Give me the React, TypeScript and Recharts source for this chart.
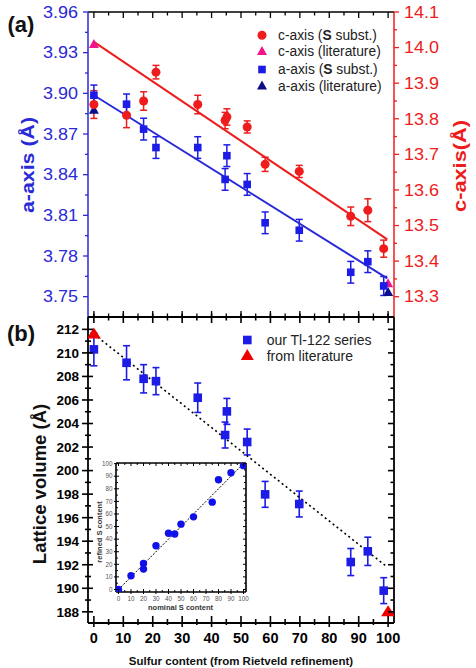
import React from 'react';
import { ComposedChart, Scatter, XAxis, YAxis, ErrorBar } from 'recharts';

// ---------- data ----------
const sulfur = [0, 11.1, 16.9, 21.1, 35.3, 44.6, 45.2, 52.1, 58.2, 69.8, 87.3, 93.1, 98.5];
const aAxis = [3.8986, 3.892, 3.8736, 3.86, 3.86, 3.8365, 3.854, 3.8328, 3.8045, 3.799, 3.768, 3.7758, 3.7579];
const aErr = [0.0075, 0.0075, 0.008, 0.008, 0.008, 0.008, 0.008, 0.008, 0.008, 0.008, 0.008, 0.008, 0.007];
const cAxis = [13.84, 13.81, 13.85, 13.931, 13.84, 13.795, 13.805, 13.777, 13.672, 13.652, 13.526, 13.543, 13.435];
const cErr = [0.039, 0.035, 0.026, 0.019, 0.026, 0.023, 0.023, 0.017, 0.02, 0.017, 0.026, 0.032, 0.024];
const volume = [210.3, 209.16, 207.8, 207.6, 206.19, 203.02, 205.03, 202.43, 197.98, 197.16, 192.23, 193.14, 189.8];
const volErr = [1.4, 1.45, 1.2, 1.15, 1.25, 1.1, 1.1, 1.1, 1.1, 1.1, 1.15, 1.2, 1.1];

const litS = [0, 100];
const aLit = [3.8876, 3.7532];
const cLit = [14.009, 13.337];
const volLit = [211.6, 188.0];

const fitS = [0, 99.7];
const aFit = [3.8986, 3.7635];
const cFit = [14.016, 13.461];
const volFit = [211.6, 191.8];

const nominalS = [0, 10, 20, 20, 30, 40, 45, 50, 60, 75, 80, 90, 100];
const refinedS = [0, 10.9, 20.7, 16.2, 34.8, 44.7, 44.1, 51.9, 57.7, 69.4, 87.2, 92.8, 98.4];
const diagS = [0, 100];

const xTicks = [0, 5, 10, 15, 20, 25, 30, 35, 40, 45, 50, 55, 60, 65, 70, 75, 80, 85, 90, 95, 100];
const aTicks = [3.75, 3.765, 3.78, 3.795, 3.81, 3.825, 3.84, 3.855, 3.87, 3.885, 3.9, 3.915, 3.93, 3.945, 3.96];
const cTicks = [13.3, 13.35, 13.4, 13.45, 13.5, 13.55, 13.6, 13.65, 13.7, 13.75, 13.8, 13.85, 13.9, 13.95, 14.0, 14.05, 14.1];
const volTicks = [188, 189, 190, 191, 192, 193, 194, 195, 196, 197, 198, 199, 200, 201, 202, 203, 204, 205, 206, 207, 208, 209, 210, 211, 212];
const insetTicks = [0, 5, 10, 15, 20, 25, 30, 35, 40, 45, 50, 55, 60, 65, 70, 75, 80, 85, 90, 95, 100];

// ---------- helpers ----------
const zip = (xs: number[], ys: number[], es?: number[]) =>
  xs.map((x, i) => ({ x, y: ys[i], e: es ? es[i] : 0 }));

const FONT = '"Liberation Sans", Arial, Helvetica, sans-serif';
const BLUE = '#1c1ce6';
const BLUE_AX = '#2a2ad6';
const RED = '#ee1c1c';
const MAGENTA = '#f0158c';
const NAVY = '#0d0d8a';

const every = (step: number, base = 0) => (v: number) => {
  const q = (v - base) / step;
  return Math.abs(q - Math.round(q)) < 1e-6;
};

type TickOpts = {
  side: 'left' | 'right' | 'top' | 'bottom';
  isMajor: (v: number) => boolean;
  majIn: number; majOut: number; minIn: number; minOut: number;
  color: string;
  label?: (v: number) => string;
  gap?: number;
  fontSize?: number;
  fontWeight?: any;
  textColor?: string;
  sw?: number;
  textLength?: number;
};

const makeTick = (o: TickOpts) => (props: any) => {
  const { x, y, payload } = props;
  const v = payload.value;
  const major = o.isMajor(v);
  const tin = major ? o.majIn : o.minIn;
  const tout = major ? o.majOut : o.minOut;
  const lbl = major && o.label ? o.label(v) : '';
  const g = o.gap ?? 3;
  const sw = o.sw ?? 1.3;
  let line: any = null;
  let text: any = null;
  const tp: any = {
    fontFamily: FONT,
    fontSize: o.fontSize ?? 12,
    fontWeight: o.fontWeight ?? 'normal',
    fill: o.textColor ?? o.color,
  };
  if (o.textLength) {
    tp.textLength = o.textLength;
    tp.lengthAdjust = 'spacingAndGlyphs';
  }
  if (o.side === 'left') {
    line = <line x1={x - tout} y1={y} x2={x + tin} y2={y} stroke={o.color} strokeWidth={sw} />;
    if (lbl) text = <text x={x - tout - g} y={y} dy="0.36em" textAnchor="end" {...tp}>{lbl}</text>;
  } else if (o.side === 'right') {
    line = <line x1={x - tin} y1={y} x2={x + tout} y2={y} stroke={o.color} strokeWidth={sw} />;
    if (lbl) text = <text x={x + tout + g} y={y} dy="0.36em" textAnchor="start" {...tp}>{lbl}</text>;
  } else if (o.side === 'bottom') {
    line = <line x1={x} y1={y - tin} x2={x} y2={y + tout} stroke={o.color} strokeWidth={sw} />;
    if (lbl) text = <text x={x} y={y + tout + g} dy="0.72em" textAnchor="middle" {...tp}>{lbl}</text>;
  } else {
    line = <line x1={x} y1={y - tout} x2={x} y2={y + tin} stroke={o.color} strokeWidth={sw} />;
  }
  return (
    <g>
      {line}
      {text}
    </g>
  );
};

const squareShape = (half: number, fill: string) => (p: any) => (
  <rect x={p.cx - half} y={p.cy - half} width={half * 2} height={half * 2} fill={fill} />
);
const circleShape = (r: number, fill: string) => (p: any) => <circle cx={p.cx} cy={p.cy} r={r} fill={fill} />;
const triShape = (w: number, h: number, fill: string) => (p: any) => (
  <polygon
    points={`${p.cx},${p.cy - h * 0.6} ${p.cx - w / 2},${p.cy + h * 0.4} ${p.cx + w / 2},${p.cy + h * 0.4}`}
    fill={fill}
  />
);
const noShape = () => <g />;

// ---------- charts ----------
const TopPanel = () => (
  <ComposedChart width={476} height={330} margin={{ top: 10, right: 22, bottom: 10, left: 28 }}>
    <XAxis
      xAxisId="b" dataKey="x" type="number" domain={[-2, 102]} allowDataOverflow ticks={xTicks} interval={0}
      orientation="bottom" height={3} tickSize={0} tickMargin={0} tickLine={false}
      axisLine={{ stroke: '#000', strokeWidth: 1.5 }}
      tick={makeTick({ side: 'bottom', isMajor: every(10), majIn: 6, majOut: 0, minIn: 3.5, minOut: 0, color: '#000' })}
    />
    <XAxis
      xAxisId="t" dataKey="x" type="number" domain={[-2, 102]} allowDataOverflow ticks={xTicks} interval={0}
      orientation="top" height={2} tickSize={0} tickMargin={0} tickLine={false}
      axisLine={{ stroke: '#000', strokeWidth: 1.5 }}
      tick={makeTick({ side: 'top', isMajor: every(10), majIn: 6, majOut: 0, minIn: 3.5, minOut: 0, color: '#000' })}
    />
    <YAxis
      yAxisId="a" dataKey="y" type="number" domain={[3.735, 3.96]} allowDataOverflow ticks={aTicks} interval={0}
      orientation="left" width={60} tickSize={0} tickMargin={0} tickLine={false}
      axisLine={{ stroke: BLUE_AX, strokeWidth: 1.5 }}
      tick={makeTick({
        side: 'left', isMajor: every(0.03, 3.75), majIn: 0, majOut: 5, minIn: 0, minOut: 3, color: BLUE_AX,
        label: (v) => v.toFixed(2), gap: 5, fontSize: 16, textLength: 35,
      })}
    />
    <YAxis
      yAxisId="c" dataKey="y" type="number" domain={[13.243, 14.1]} allowDataOverflow ticks={cTicks} interval={0}
      orientation="right" width={60} tickSize={0} tickMargin={0} tickLine={false}
      axisLine={{ stroke: RED, strokeWidth: 1.5 }}
      tick={makeTick({
        side: 'right', isMajor: every(0.1, 13.3), majIn: 0, majOut: 5, minIn: 0, minOut: 3, color: RED,
        label: (v) => v.toFixed(1), gap: 5, fontSize: 16, textLength: 35,
      })}
    />
    <Scatter xAxisId="b" yAxisId="a" data={zip(fitS, aFit)} line={{ stroke: BLUE_AX, strokeWidth: 2 }} shape={noShape} isAnimationActive={false} />
    <Scatter xAxisId="b" yAxisId="c" data={zip(fitS, cFit)} line={{ stroke: RED, strokeWidth: 2 }} shape={noShape} isAnimationActive={false} />
    <Scatter xAxisId="b" yAxisId="a" data={zip(litS, aLit)} shape={triShape(10, 9, NAVY)} isAnimationActive={false} />
    <Scatter xAxisId="b" yAxisId="c" data={zip(sulfur, cAxis, cErr)} shape={circleShape(4.5, RED)} isAnimationActive={false}>
      <ErrorBar dataKey="e" direction="y" width={3.5} stroke={RED} strokeWidth={1.5} />
    </Scatter>
    <Scatter xAxisId="b" yAxisId="c" data={zip(litS, cLit)} shape={triShape(10, 9, MAGENTA)} isAnimationActive={false} />
    <Scatter xAxisId="b" yAxisId="a" data={zip(sulfur, aAxis, aErr)} shape={squareShape(3.8, BLUE)} isAnimationActive={false}>
      <ErrorBar dataKey="e" direction="y" width={3.5} stroke={BLUE} strokeWidth={1.5} />
    </Scatter>
  </ComposedChart>
);

const BottomPanel = () => (
  <ComposedChart width={476} height={668} margin={{ top: 315, right: 72, bottom: 15, left: 28 }}>
    <XAxis
      xAxisId="b" dataKey="x" type="number" domain={[-2, 102]} allowDataOverflow ticks={xTicks} interval={0}
      orientation="bottom" height={30} tickSize={0} tickMargin={0} tickLine={false}
      axisLine={{ stroke: '#000', strokeWidth: 1.8 }}
      tick={makeTick({
        side: 'bottom', isMajor: every(10), majIn: 7, majOut: 4, minIn: 4, minOut: 2, color: '#000',
        label: (v) => String(v), gap: 6, fontSize: 14.5, fontWeight: 'bold', sw: 1.6,
      })}
    />
    <XAxis
      xAxisId="t" dataKey="x" type="number" domain={[-2, 102]} allowDataOverflow ticks={xTicks} interval={0}
      orientation="top" height={2} tickSize={0} tickMargin={0} tickLine={false}
      axisLine={{ stroke: '#000', strokeWidth: 1.8 }}
      tick={makeTick({ side: 'top', isMajor: every(10), majIn: 6, majOut: 3.5, minIn: 3.5, minOut: 0, color: '#000', sw: 1.6 })}
    />
    <YAxis
      yAxisId="v" dataKey="y" type="number" domain={[187.05, 213.05]} allowDataOverflow ticks={volTicks} interval={0}
      orientation="left" width={60} tickSize={0} tickMargin={0} tickLine={false}
      axisLine={{ stroke: '#000', strokeWidth: 1.8 }}
      tick={makeTick({
        side: 'left', isMajor: every(2), majIn: 5, majOut: 6, minIn: 3, minOut: 3, color: '#000',
        label: (v) => String(v), gap: 3, fontSize: 13.5, fontWeight: 'bold', sw: 1.6,
      })}
    />
    <YAxis
      yAxisId="r" dataKey="y" type="number" domain={[187.05, 213.05]} allowDataOverflow ticks={volTicks} interval={0}
      orientation="right" width={10} tickSize={0} tickMargin={0} tickLine={false}
      axisLine={{ stroke: '#000', strokeWidth: 1.8 }}
      tick={makeTick({ side: 'right', isMajor: every(2), majIn: 6, majOut: 0, minIn: 3.5, minOut: 0, color: '#000', sw: 1.6 })}
    />
    <Scatter xAxisId="b" yAxisId="v" data={zip(fitS, volFit)} line={{ stroke: '#000', strokeWidth: 1.6, strokeDasharray: '2 3' }} shape={noShape} isAnimationActive={false} />
    <Scatter xAxisId="b" yAxisId="v" data={zip(sulfur, volume, volErr)} shape={squareShape(4.3, BLUE)} isAnimationActive={false}>
      <ErrorBar dataKey="e" direction="y" width={3.5} stroke={BLUE} strokeWidth={1.6} />
    </Scatter>
    <Scatter xAxisId="b" yAxisId="v" data={zip(litS, volLit)} shape={triShape(14, 11, '#ee0000')} isAnimationActive={false} />
  </ComposedChart>
);

const Inset = () => (
  <ComposedChart width={170} height={160} margin={{ top: 11, right: 12, bottom: 12, left: 6 }}>
    <XAxis
      xAxisId="b" dataKey="x" type="number" domain={[-2, 102]} allowDataOverflow ticks={insetTicks} interval={0}
      orientation="bottom" height={6} tickSize={0} tickMargin={0} tickLine={false}
      axisLine={{ stroke: '#000', strokeWidth: 1.6 }}
      tick={makeTick({
        side: 'bottom', isMajor: every(10), majIn: 3, majOut: 2, minIn: 2, minOut: 0, color: '#000',
        label: (v) => String(v), gap: 2, fontSize: 6.3, textColor: '#555', sw: 1,
      })}
    />
    <XAxis
      xAxisId="t" dataKey="x" type="number" domain={[-2, 102]} allowDataOverflow ticks={insetTicks} interval={0}
      orientation="top" height={2} tickSize={0} tickMargin={0} tickLine={false}
      axisLine={{ stroke: '#000', strokeWidth: 1.6 }}
      tick={makeTick({ side: 'top', isMajor: every(10), majIn: 3, majOut: 0, minIn: 2, minOut: 0, color: '#000', sw: 1 })}
    />
    <YAxis
      yAxisId="l" dataKey="y" type="number" domain={[-2, 100.5]} allowDataOverflow ticks={insetTicks} interval={0}
      orientation="left" width={20} tickSize={0} tickMargin={0} tickLine={false}
      axisLine={{ stroke: '#000', strokeWidth: 1.6 }}
      tick={makeTick({
        side: 'left', isMajor: every(10), majIn: 3, majOut: 2, minIn: 2, minOut: 0, color: '#000',
        label: (v) => String(v), gap: 1.5, fontSize: 6.3, textColor: '#555', sw: 1,
      })}
    />
    <YAxis
      yAxisId="r" dataKey="y" type="number" domain={[-2, 100.5]} allowDataOverflow ticks={insetTicks} interval={0}
      orientation="right" width={2} tickSize={0} tickMargin={0} tickLine={false}
      axisLine={{ stroke: '#000', strokeWidth: 1.6 }}
      tick={makeTick({ side: 'right', isMajor: every(10), majIn: 3, majOut: 0, minIn: 2, minOut: 0, color: '#000', sw: 1 })}
    />
    <Scatter xAxisId="b" yAxisId="l" data={zip(diagS, diagS)} line={{ stroke: '#000', strokeWidth: 1, strokeDasharray: '2 1.5' }} shape={noShape} isAnimationActive={false} />
    <Scatter xAxisId="b" yAxisId="l" data={zip(nominalS, refinedS)} shape={circleShape(3.7, '#1010e8')} isAnimationActive={false} />
  </ComposedChart>
);

const Overlay = () => (
  <svg width={476} height={668} style={{ position: 'absolute', left: 0, top: 0, pointerEvents: 'none' }} fontFamily={FONT}>
    {/* panel labels */}
    <text x={21} y={24} dy="0.36em" textAnchor="middle" fontSize={22} fontWeight="bold" fill="#111">(a)</text>
    <text x={21} y={333} dy="0.36em" textAnchor="middle" fontSize={22} fontWeight="bold" fill="#111">(b)</text>
    {/* axis titles */}
    <text transform="translate(27,165) rotate(-90)" textAnchor="middle" dy="0.36em" fontSize={18.5} fontWeight="bold" fill={BLUE_AX} textLength={96} lengthAdjust="spacingAndGlyphs">a-axis (Å)</text>
    <text transform="translate(459,166) rotate(-90)" textAnchor="middle" dy="0.36em" fontSize={18.5} fontWeight="bold" fill={RED} textLength={92} lengthAdjust="spacingAndGlyphs">c-axis(Å)</text>
    <text transform="translate(39,484) rotate(-90)" textAnchor="middle" dy="0.36em" fontSize={18.5} fontWeight="bold" fill="#111">Lattice volume (Å)</text>
    <text x={241} y={661} dy="0.36em" textAnchor="middle" fontSize={11.5} fontWeight="bold" fill="#111">Sulfur content (from Rietveld refinement)</text>
    {/* inset titles */}
    <text x={180.5} y={607.5} dy="0.36em" textAnchor="middle" fontSize={7.5} fontWeight="bold" fill="#333">nominal S content</text>
    <text transform="translate(99,532) rotate(-90)" textAnchor="middle" dy="0.36em" fontSize={7.5} fontWeight="bold" fill="#333">refined S content</text>
    {/* top legend */}
    <circle cx={262} cy={35.3} r={4.5} fill={RED} />
    <text x={278} y={35.3} dy="0.36em" fontSize={13.8} fill="#222">c-axis (<tspan fontWeight="bold">S</tspan> subst.)</text>
    <polygon points="262,46.1 257,55.1 267,55.1" fill={MAGENTA} />
    <text x={278} y={51.5} dy="0.36em" fontSize={13.8} fill="#222">c-axis (literature)</text>
    <rect x={258.2} y={65.7} width={7.6} height={7.6} fill={BLUE} />
    <text x={278} y={69.5} dy="0.36em" fontSize={13.8} fill="#222">a-axis (<tspan fontWeight="bold">S</tspan> subst.)</text>
    <polygon points="262,80.6 257,89.6 267,89.6" fill={NAVY} />
    <text x={278} y={86} dy="0.36em" fontSize={13.8} fill="#222">a-axis (literature)</text>
    {/* bottom legend */}
    <rect x={243} y={335.7} width={8.6} height={8.6} fill={BLUE} />
    <text x={266.7} y={340} dy="0.36em" fontSize={14} fill="#222">our Tl-122 series</text>
    <polygon points="247.3,349.1 240.8,360.1 253.8,360.1" fill="#ee0000" />
    <text x={266.7} y={356} dy="0.36em" fontSize={14} fill="#222">from literature</text>
  </svg>
);

export default function App() {
  return (
    <div style={{ position: 'absolute', left: 0, top: 0, width: 476, height: 668, background: '#fff', fontFamily: FONT }}>
      <div style={{ position: 'absolute', left: 0, top: 0 }}>
        <TopPanel />
      </div>
      <div style={{ position: 'absolute', left: 0, top: 0 }}>
        <BottomPanel />
      </div>
      <div style={{ position: 'absolute', left: 116, top: 463, width: 130, height: 129, background: '#fff' }} />
      <div style={{ position: 'absolute', left: 90, top: 450 }}>
        <Inset />
      </div>
      <Overlay />
    </div>
  );
}
